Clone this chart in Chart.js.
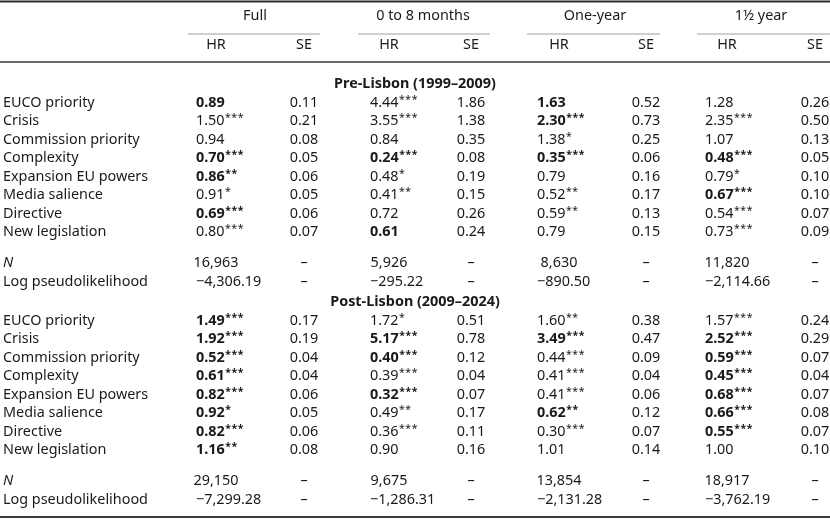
<!DOCTYPE html>
<html>
<head>
<meta charset="utf-8">
<script src="https://cdn.jsdelivr.net/npm/chart.js@4"></script>
<style>
  html, body { margin: 0; padding: 0; background: #fff; }
  #wrap { width: 830px; height: 520px; }
</style>
</head>
<body>
<div id="wrap"><canvas id="table" width="830" height="520"></canvas></div>
<script>
const models = ['Full', '0 to 8 months', 'One-year', '1\u00bd year'];
const periods = ['Pre-Lisbon (1999\u20132009)', 'Post-Lisbon (2009\u20132024)'];
const variables = ['EUCO priority', 'Crisis', 'Commission priority', 'Complexity',
  'Expansion EU powers', 'Media salience', 'Directive', 'New legislation'];

// one inner array per model (Full, 0-8 months, One-year, 1½ year)
const preHR = [
  [0.89, 1.50, 0.94, 0.70, 0.86, 0.91, 0.69, 0.80],
  [4.44, 3.55, 0.84, 0.24, 0.48, 0.41, 0.72, 0.61],
  [1.63, 2.30, 1.38, 0.35, 0.79, 0.52, 0.59, 0.79],
  [1.28, 2.35, 1.07, 0.48, 0.79, 0.67, 0.54, 0.73]
];
const preStars = [
  [0, 3, 0, 3, 2, 1, 3, 3],
  [3, 3, 0, 3, 1, 2, 0, 0],
  [0, 3, 1, 3, 0, 2, 2, 0],
  [0, 3, 0, 3, 1, 3, 3, 3]
];
const preBold = [
  [1, 0, 0, 1, 1, 0, 1, 0],
  [0, 0, 0, 1, 0, 0, 0, 1],
  [1, 1, 0, 1, 0, 0, 0, 0],
  [0, 0, 0, 1, 0, 1, 0, 0]
];
const preSE = [
  [0.11, 0.21, 0.08, 0.05, 0.06, 0.05, 0.06, 0.07],
  [1.86, 1.38, 0.35, 0.08, 0.19, 0.15, 0.26, 0.24],
  [0.52, 0.73, 0.25, 0.06, 0.16, 0.17, 0.13, 0.15],
  [0.26, 0.50, 0.13, 0.05, 0.10, 0.10, 0.07, 0.09]
];
const preN = [16963, 5926, 8630, 11820];
const preLogLik = [-4306.19, -295.22, -890.50, -2114.66];

const postHR = [
  [1.49, 1.92, 0.52, 0.61, 0.82, 0.92, 0.82, 1.16],
  [1.72, 5.17, 0.40, 0.39, 0.32, 0.49, 0.36, 0.90],
  [1.60, 3.49, 0.44, 0.41, 0.41, 0.62, 0.30, 1.01],
  [1.57, 2.52, 0.59, 0.45, 0.68, 0.66, 0.55, 1.00]
];
const postStars = [
  [3, 3, 3, 3, 3, 1, 3, 2],
  [1, 3, 3, 3, 3, 2, 3, 0],
  [2, 3, 3, 3, 3, 2, 3, 0],
  [3, 3, 3, 3, 3, 3, 3, 0]
];
const postBold = [
  [1, 1, 1, 1, 1, 1, 1, 1],
  [0, 1, 1, 0, 1, 0, 0, 0],
  [0, 1, 0, 0, 0, 1, 0, 0],
  [0, 1, 1, 1, 1, 1, 1, 0]
];
const postSE = [
  [0.17, 0.19, 0.04, 0.04, 0.06, 0.05, 0.06, 0.08],
  [0.51, 0.78, 0.12, 0.04, 0.07, 0.17, 0.11, 0.16],
  [0.38, 0.47, 0.09, 0.04, 0.06, 0.12, 0.07, 0.14],
  [0.24, 0.29, 0.07, 0.04, 0.07, 0.08, 0.07, 0.10]
];
const postN = [29150, 9675, 13854, 18917];
const postLogLik = [-7299.28, -1286.31, -2131.28, -3762.19];

// ---- layout (in scale units = px of the 830x520 frame) ----
const FONT = '"Noto Sans", "DejaVu Sans", sans-serif';
const SIZE = 14.4;
const INK = '#1a1a1a';
const labelX = 3;
const groupX = [255, 423, 595, 761];
const hrLeft = [196, 370, 537, 705];
const hrMid = [216, 389, 559, 727];
const seMid = [304, 471, 646, 815];
const spans = [[188, 320], [358, 490], [527, 660], [697, 830]];
const headY = [16, 45];
const sectionY = [84, 302];
const pitch = 18.5;
const gapN = 30.5;

const fmt2 = v => v.toFixed(2);
const fmtN = v => v.toLocaleString('en-US');
const fmtLog = v => (v < 0 ? '\u2212' : '') +
  Math.abs(v).toLocaleString('en-US', { minimumFractionDigits: 2, maximumFractionDigits: 2 });

const cells = [];
function cell(x, y, text, opts) {
  cells.push(Object.assign({ x: x, y: y, text: text, align: 'left', bold: false, italic: false, stars: 0 }, opts || {}));
}

models.forEach((m, k) => {
  cell(groupX[k], headY[0], m, { align: 'center' });
  cell(hrMid[k], headY[1], 'HR', { align: 'center' });
  cell(seMid[k], headY[1], 'SE', { align: 'center' });
});

const blocks = [
  { hr: preHR, st: preStars, bd: preBold, se: preSE, n: preN, ll: preLogLik },
  { hr: postHR, st: postStars, bd: postBold, se: postSE, n: postN, ll: postLogLik }
];
blocks.forEach((b, p) => {
  const top = sectionY[p];
  cell(415, top, periods[p], { align: 'center', bold: true });
  variables.forEach((v, i) => {
    const y = top + pitch * (i + 1);
    cell(labelX, y, v);
    models.forEach((m, k) => {
      cell(hrLeft[k], y, fmt2(b.hr[k][i]), { bold: !!b.bd[k][i], stars: b.st[k][i] });
      cell(seMid[k], y, fmt2(b.se[k][i]), { align: 'center' });
    });
  });
  const yN = top + pitch * variables.length + gapN;
  const yL = yN + 19;
  cell(labelX, yN, 'N', { italic: true });
  cell(labelX, yL, 'Log pseudolikelihood');
  models.forEach((m, k) => {
    cell(hrMid[k], yN, fmtN(b.n[k]), { align: 'center' });
    cell(hrLeft[k], yL, fmtLog(b.ll[k]));
    cell(seMid[k], yN, '\u2013', { align: 'center' });
    cell(seMid[k], yL, '\u2013', { align: 'center' });
  });
});

// horizontal rules as line datasets
function rule(x0, x1, y, w, c) {
  return { type: 'line', data: [{ x: x0, y: y }, { x: x1, y: y }], borderColor: c, borderWidth: w,
    pointRadius: 0, clip: false, fill: false, tension: 0 };
}
const rules = [
  rule(0, 830, 1.5, 2.2, '#2a2a2a'),
  rule(0, 830, 62, 1.4, '#3a3a3a'),
  rule(0, 830, 517, 2.2, '#3a3a3a')
].concat(spans.map(s => rule(s[0], s[1], 34, 0.7, '#777')));

const cellText = {
  id: 'cellText',
  afterDatasetsDraw(chart) {
    const ctx = chart.ctx;
    const meta = chart.getDatasetMeta(0);
    ctx.save();
    ctx.fillStyle = INK;
    ctx.textBaseline = 'middle';
    meta.data.forEach((pt, j) => {
      const d = cells[j];
      const wt = d.bold ? 'bold ' : '';
      const it = d.italic ? 'italic ' : '';
      ctx.font = it + wt + SIZE + 'px ' + FONT;
      ctx.textAlign = d.align;
      ctx.fillText(d.text, pt.x, pt.y);
      if (d.stars) {
        const w = ctx.measureText(d.text).width;
        ctx.font = wt + '10.5px ' + FONT;
        ctx.textAlign = 'left';
        for (let s = 0; s < d.stars; s++) {
          ctx.fillText('*', pt.x + w + 0.5 + s * 6.3, pt.y - 2.5);
        }
      }
    });
    ctx.restore();
  }
};

new Chart(document.getElementById('table'), {
  type: 'scatter',
  data: {
    datasets: [{ data: cells, pointRadius: 0, showLine: false, clip: false }].concat(rules)
  },
  options: {
    responsive: false,
    animation: false,
    devicePixelRatio: 1,
    layout: { padding: 0 },
    plugins: { legend: { display: false }, tooltip: { enabled: false } },
    scales: {
      x: { type: 'linear', min: 0, max: 830, display: false },
      y: { type: 'linear', min: 0, max: 520, reverse: true, display: false }
    }
  },
  plugins: [cellText]
});
</script>
</body>
</html>
